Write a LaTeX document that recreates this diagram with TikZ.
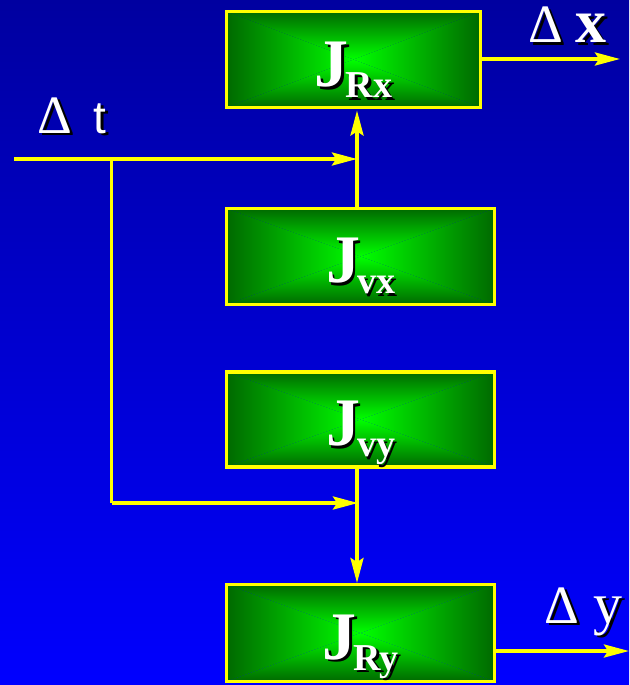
\documentclass[tikz,border=0pt]{standalone}
\usepackage{fontspec}
\setmainfont{Liberation Serif}
\newfontfamily\lsans{Liberation Sans}
\usetikzlibrary{arrows.meta}

\definecolor{bgtop}{RGB}{0,0,160}
\definecolor{bgbot}{RGB}{0,0,255}
\definecolor{gdark}{RGB}{0,105,0}
\definecolor{glight}{RGB}{0,255,0}
\definecolor{wire}{RGB}{255,255,0}

% green box with a rectangular (pyramid) gradient and a yellow frame
\newcommand\greenbox[5]{%
  \node[boxframe, minimum width=#4, minimum height=#5] (#1) at (#2,#3) {};
  \shade[top color=gdark, bottom color=glight] (#1.north west) -- (#1.north east) -- (#1.center) -- cycle;
  \shade[top color=glight, bottom color=gdark] (#1.south west) -- (#1.south east) -- (#1.center) -- cycle;
  \shade[left color=gdark, right color=glight] (#1.north west) -- (#1.south west) -- (#1.center) -- cycle;
  \shade[left color=glight, right color=gdark] (#1.north east) -- (#1.south east) -- (#1.center) -- cycle;
  \draw[frame] (#1.north west) rectangle (#1.south east);
}
% white text with a black drop shadow; #2 is a full coordinate in parentheses
\newcommand\shadowtext[5][]{%
  \node[anchor=#4, text=black, inner sep=0pt, xshift=2.8pt, yshift=-2.8pt, #1] (#2-sh) at #3 {#5};
  \node[anchor=#4, text=white, inner sep=0pt, #1] (#2) at #3 {#5};
}
\newcommand\jlabel[1]{{\fontsize{68}{68}\selectfont\bfseries J}\kern-3pt{\fontsize{38}{38}\selectfont\bfseries\raisebox{-11pt}{#1}}}

\begin{document}
\begin{tikzpicture}[x=1pt,y=-1pt,
  boxframe/.style={inner sep=0pt, outer sep=0pt, rectangle},
  frame/.style={draw=wire, line width=3.6pt},
  wireline/.style={draw=wire, line width=3.4pt},
  arr/.style={wireline, -{Stealth[length=25pt,width=13pt,inset=4pt]}},
]
\useasboundingbox (0,0) rectangle (629,685);
\shade[top color=bgtop, bottom color=bgbot] (0,0) rectangle (629,685);

% blocks
\greenbox{rx}{353.5}{59.5}{254pt}{96pt}
\greenbox{vx}{360.5}{256.5}{268pt}{96pt}
\greenbox{vy}{360.5}{419.5}{268pt}{95pt}
\greenbox{ry}{360.5}{633}{268pt}{97pt}

% block captions
\shadowtext{lrx}{([yshift=-27pt]rx.center)}{base}{\jlabel{Rx}}
\shadowtext{lvx}{([yshift=-26pt]vx.center)}{base}{\jlabel{vx}}
\shadowtext{lvy}{([yshift=-26pt]vy.center)}{base}{\jlabel{vy}}
\shadowtext{lry}{([yshift=-26pt]ry.center)}{base}{\jlabel{Ry}}

% signal routing
\coordinate (bus) at (357,0);
\coordinate (tin) at (14,159);
\coordinate (tap) at (111.5,159);
\coordinate (turn) at (111.5,503);
\coordinate (xout) at (620,59);
\coordinate (yout) at (629,651);

\draw[arr] (tin) -- (tin -| bus);
\draw[wireline] (tap) -- (turn);
\draw[arr] (turn) -- ([xshift=1pt]turn -| bus);
\draw[arr, shorten >=3pt] (vx.north -| bus) -- (rx.south -| bus);
\draw[arr, shorten >=1.5pt] (vy.south -| bus) -- (ry.north -| bus);
\draw[arr] (rx.east |- xout) -- (xout);
\draw[arr] (ry.east |- yout) -- (yout);

% signal names
\shadowtext[text height=34pt, text depth=0pt]{dx}{(528,43)}{base west}{{\fontsize{54}{54}\selectfont\char"0394}\hspace{13pt}{\fontsize{62}{62}\selectfont\bfseries x}}
\shadowtext{dt}{(37,133)}{base west}{{\fontsize{54}{54}\selectfont\char"0394}\hspace{22pt}{\lsans\fontsize{46}{46}\selectfont t}}
\shadowtext[text depth=14pt]{dy}{(544,623)}{base west}{{\fontsize{54}{54}\selectfont\char"0394}\hspace{15pt}{\fontsize{58}{58}\selectfont y}}
\end{tikzpicture}
\end{document}
